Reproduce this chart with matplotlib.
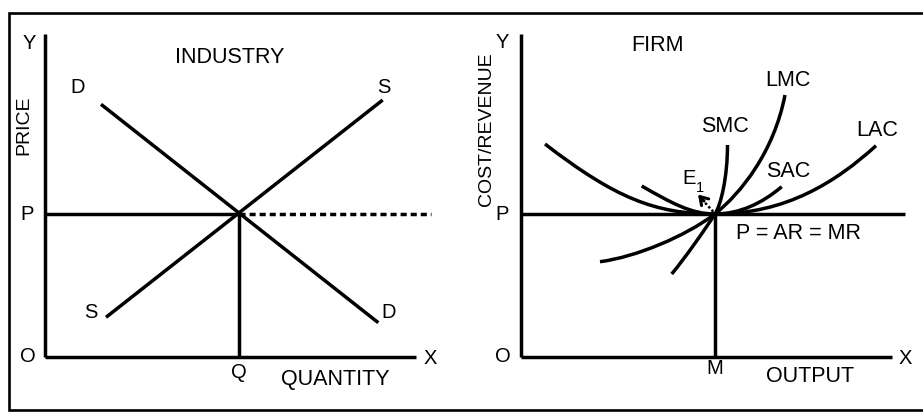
import matplotlib
matplotlib.use("Agg")
import matplotlib.pyplot as plt
from matplotlib.path import Path
from matplotlib.patches import PathPatch

plt.rcParams['font.family'] = ['Liberation Sans', 'DejaVu Sans']

# ---------------- data (diagram units) ----------------
# Industry panel
ind_axis_y = [32.3]          # top of Y axis
ind_axis_x = [37.1]          # end of X axis
ind_P = 14.35                # equilibrium price
ind_Q = 19.37                # equilibrium quantity
ind_P_dash_end = 38.6
demand_x = [5.6, 33.33]
demand_y = [25.27, 3.43]
supply_x = [6.1, 33.77]
supply_y = [3.97, 25.7]

# Firm panel
firm_axis_y = [32.3]
firm_axis_x = [37.1]
firm_P = 14.3
firm_M = 19.4
firm_P_end = 38.4
# cubic Bezier control points (two segments per curve, joined at E)
LAC = [(2.4, 21.3), (9.4, 15.91), (13.4, 14.3), (19.4, 14.3),
       (26.5, 14.3), (31.5, 17.5), (35.5, 21.13)]
SAC = [(12.07, 17.1), (15.07, 15.39), (17.0, 14.3), (19.4, 14.3),
       (21.8, 14.3), (24.07, 15.33), (26.07, 17.03)]
SMC = [(15.07, 8.3), (16.4, 9.9), (18.3, 12.6), (19.4, 14.3),
       (20.0, 15.23), (20.65, 18.0), (20.65, 21.2)]
LMC = [(7.9, 9.53), (11.5, 10.0), (16.4, 12.05), (19.4, 14.3),
       (22.0, 16.4), (25.3, 20.5), (26.4, 26.2)]
arrow_tail = (19.23, 14.53)
arrow_head = (17.7, 16.25)

LW = 2.5
FS_BIG = 15.5
FS_LET = 14.5
FS_ROT = 14

fig = plt.figure(figsize=(9.23, 4.12), dpi=100)
fig.patch.set_facecolor('white')

# frame
ax0 = fig.add_axes([0, 0, 1, 1])
ax0.set_xlim(0, 923)
ax0.set_ylim(412, 0)
ax0.axis('off')
ax0.plot([923, 8.5, 8.5, 923], [13, 13, 410, 410], color='black', lw=1.9,
         solid_joinstyle='miter', solid_capstyle='butt')


def panel(left_px):
    ax = fig.add_axes([left_px / 923, 55 / 412, 400 / 923, 330 / 412])
    ax.set_xlim(0, 40)
    ax.set_ylim(0, 33)
    ax.axis('off')
    ax.patch.set_alpha(0)
    return ax


def line(ax, xs, ys, **kw):
    ax.plot(xs, ys, color='black', lw=LW, solid_capstyle='butt',
            clip_on=False, **kw)


def bezier(ax, pts):
    codes = [Path.MOVETO] + [Path.CURVE4] * (len(pts) - 1)
    ax.add_patch(PathPatch(Path(pts, codes), facecolor='none',
                           edgecolor='black', lw=LW, capstyle='butt',
                           clip_on=False))


# ---------------- Industry ----------------
ax1 = panel(45)
line(ax1, [0, 0], [0, ind_axis_y[0]])
line(ax1, [0, ind_axis_x[0]], [0, 0])
line(ax1, [0, ind_Q], [ind_P, ind_P])
ax1.plot([ind_Q, ind_P_dash_end], [ind_P, ind_P], color='black', lw=LW,
         dashes=(1.75, 1.15), dash_capstyle='butt', clip_on=False)
line(ax1, [ind_Q, ind_Q], [0, ind_P])
line(ax1, demand_x, demand_y)
line(ax1, supply_x, supply_y)

t = dict(ha='center', va='center', color='black')
ax1.text(-1.6, 31.4, 'Y', fontsize=FS_LET, **t)
ax1.text(-2.1, 23.2, 'PRICE', fontsize=FS_ROT, rotation=90, **t)
ax1.text(-1.8, 14.3, 'P', fontsize=FS_LET, **t)
ax1.text(-1.7, 0.0, 'O', fontsize=FS_LET, **t)
ax1.text(38.5, -0.1, 'X', fontsize=FS_LET, **t)
ax1.text(19.4, -1.5, 'Q', fontsize=FS_LET, **t)
ax1.text(29.0, -2.2, 'QUANTITY', fontsize=FS_BIG, **t)
ax1.text(18.5, 30.0, 'INDUSTRY', fontsize=FS_BIG, **t)
ax1.text(3.27, 27.0, 'D', fontsize=FS_LET, **t)
ax1.text(33.9, 27.0, 'S', fontsize=FS_LET, **t)
ax1.text(4.6, 4.4, 'S', fontsize=FS_LET, **t)
ax1.text(34.4, 4.4, 'D', fontsize=FS_LET, **t)

# ---------------- Firm ----------------
ax2 = panel(521)
line(ax2, [0, 0], [0, firm_axis_y[0]])
line(ax2, [0, firm_axis_x[0]], [0, 0])
line(ax2, [0, firm_P_end], [firm_P, firm_P])
line(ax2, [firm_M, firm_M], [0, firm_P])
for c in (LAC, SAC, SMC, LMC):
    bezier(ax2, c)

ax2.plot([arrow_tail[0], 18.0], [arrow_tail[1], 15.87], color='black',
         lw=1.8, linestyle=(0, (1, 0.9)), clip_on=False)
ax2.annotate('', xy=arrow_head, xytext=(18.3, 15.6),
             arrowprops=dict(arrowstyle='->,head_length=0.55,head_width=0.35',
                             color='black', lw=2.2, shrinkA=0, shrinkB=0))

ax2.text(-1.87, 31.5, 'Y', fontsize=FS_LET, **t)
ax2.text(-3.5, 22.8, 'COST/REVENUE', fontsize=FS_ROT, rotation=90, **t)
ax2.text(-1.93, 14.3, 'P', fontsize=FS_LET, **t)
ax2.text(-1.77, 0.0, 'O', fontsize=FS_LET, **t)
ax2.text(38.4, -0.2, 'X', fontsize=FS_LET, **t)
ax2.text(19.4, -1.13, 'M', fontsize=FS_LET, **t)
ax2.text(28.9, -2.0, 'OUTPUT', fontsize=FS_BIG, **t)
ax2.text(13.63, 31.2, 'FIRM', fontsize=FS_BIG, **t)
ax2.text(26.73, 27.63, 'LMC', fontsize=FS_BIG, **t)
ax2.text(20.4, 23.03, 'SMC', fontsize=FS_BIG, **t)
ax2.text(35.63, 22.63, 'LAC', fontsize=FS_BIG, **t)
ax2.text(26.73, 18.53, 'SAC', fontsize=FS_BIG, **t)
ax2.text(27.8, 12.37, 'P = AR = MR', fontsize=FS_BIG, **t)
ax2.text(16.8, 17.87, 'E', fontsize=FS_LET, **t)
ax2.text(17.85, 16.95, '1', fontsize=10.5, **t)

fig.savefig('out.png', dpi=100, facecolor='white')
